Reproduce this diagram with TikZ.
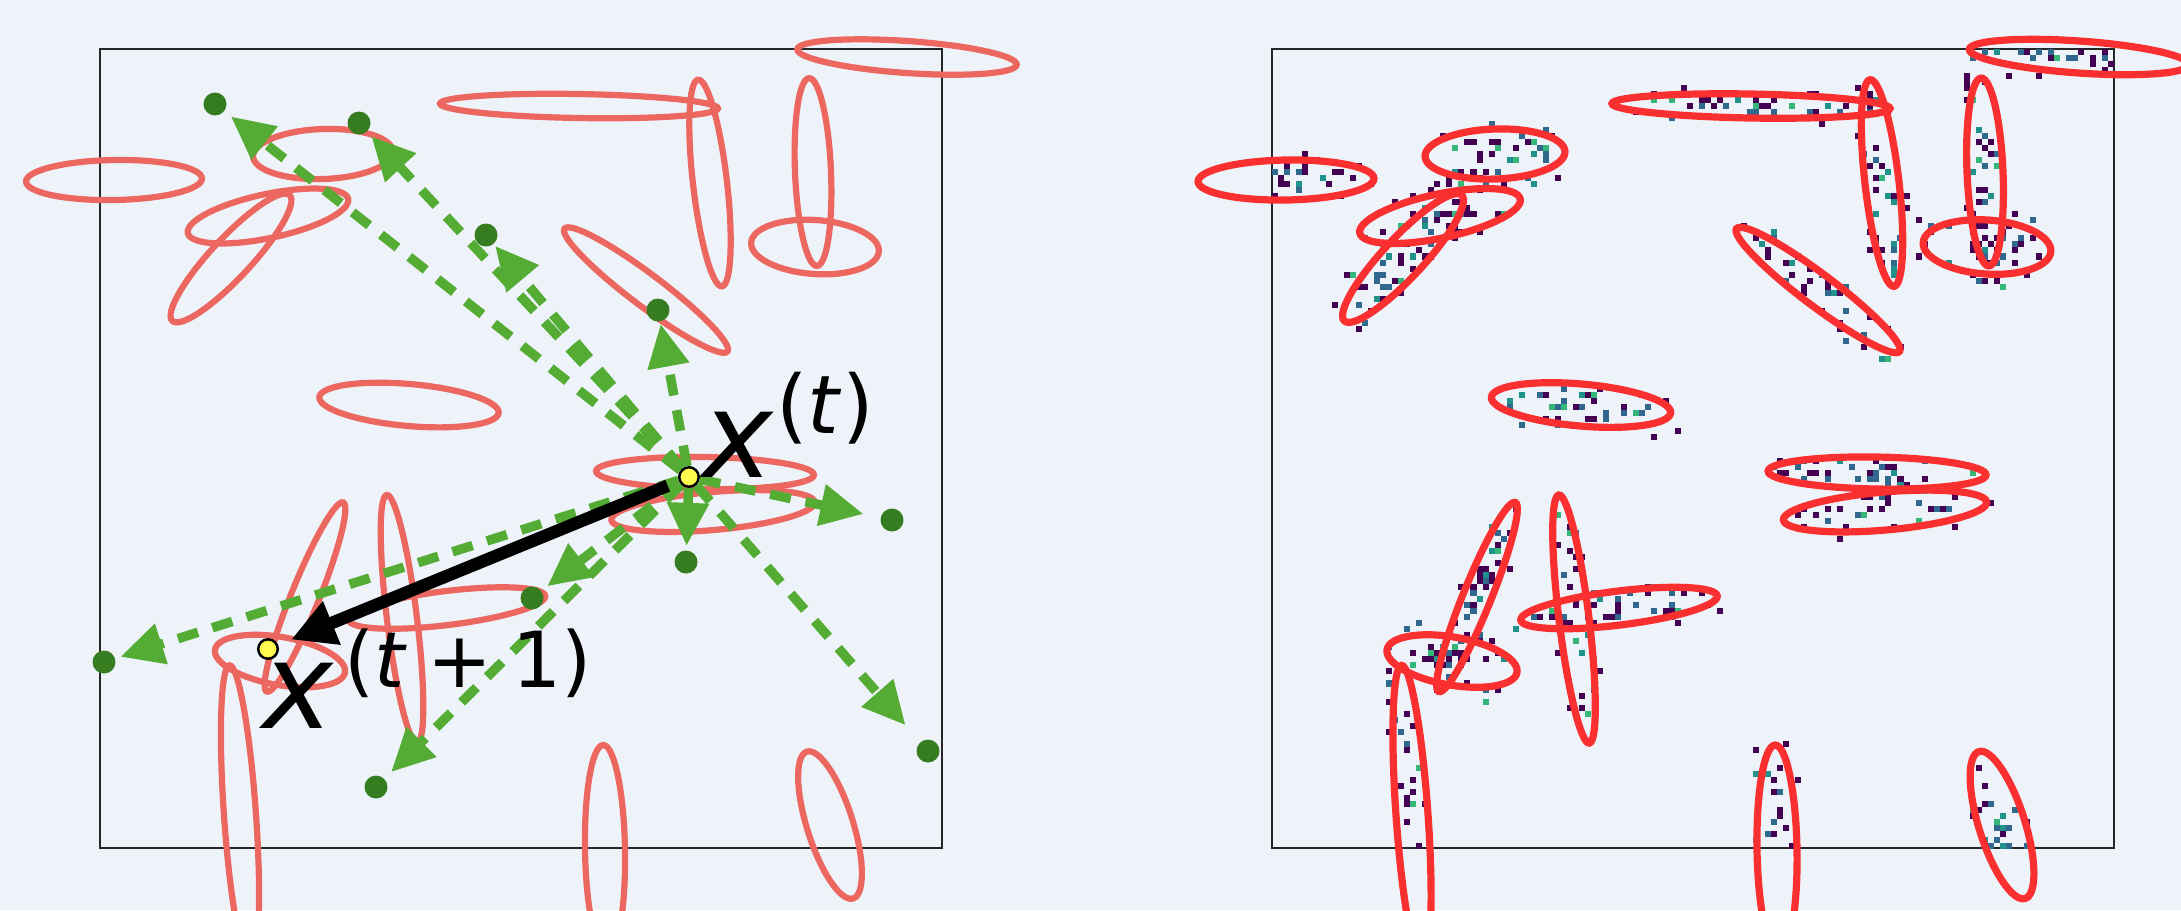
\documentclass[tikz,border=0pt]{standalone}
\usepackage{fontspec}
\setmainfont{DejaVu Sans}[ItalicFont={DejaVu Sans Oblique}]
\usetikzlibrary{arrows.meta}

\definecolor{bgpanel}{RGB}{238,243,250}
\definecolor{ellsoft}{RGB}{236,103,95}
\definecolor{ellhot}{RGB}{250,48,48}
\definecolor{propline}{RGB}{84,172,52}
\definecolor{propdot}{RGB}{54,125,34}
\definecolor{curdot}{RGB}{255,250,80}
\definecolor{vpurple}{RGB}{68,1,84}
\definecolor{vblue}{RGB}{49,104,142}
\definecolor{vteal}{RGB}{33,145,140}
\definecolor{vgreen}{RGB}{53,183,121}

% centre x / centre y / semi-axis a / semi-axis b / angle  (left panel, pixels)
\newcommand{\ellipselist}{114/180/88/20/1, 323/154/70/25/2, 268/216/82/22/12,
  231/258/86/20/47, 409/405/90/21/-5, 579/106/139/12/-1, 907/57/110/16/-4,
  710/183/104/17/96.6, 813/172/94/18/92.4, 815/247/64/27/-4, 646/290/102/16/-37,
  280/661/66/24/-10, 305/597/102/14/68, 402/619/125/15/97, 240/815/150/16/94,
  447/608/99/17/7, 705/473/109/16/-1, 713/511/102/19/5, 605/850/105/20/91,
  830/825/77/23/107.5}

\pgfmathdeclarerandomlist{viridis}{{vpurple}{vpurple}{vpurple}{vpurple}{vpurple}{vpurple}{vpurple}{vblue}{vblue}{vblue}{vteal}{vgreen}}

\begin{document}
\begin{tikzpicture}[
    x=0.1mm, y=-0.1mm,
    frame/.style={draw=black!85, line width=0.22mm},
    ellL/.style={draw=ellsoft, line width=0.62mm},
    ellR/.style={draw=ellhot, line width=0.72mm},
    prop/.style={-{Triangle[length=4.3mm, width=4mm]}, draw=propline, line width=0.95mm, dash pattern=on 2.1mm off 1.5mm},
    move/.style={-{Triangle[length=4.4mm, width=4.4mm]}, draw=black, line width=1.25mm},
    pdot/.style={circle, fill=propdot, minimum size=2.3mm, inner sep=0pt},
    xdot/.style={circle, draw=black, fill=curdot, line width=0.25mm, minimum size=1.95mm, inner sep=0pt},
    lbl/.style={inner sep=0pt, font=\fontsize{34}{34}\selectfont}
]

% 1. Canvas and axes frames
\useasboundingbox (0,0) rectangle (2181,910);
\clip (0,0) rectangle (2181,910);
\fill[bgpanel] (0,0) rectangle (2181,910);
\draw[frame] (100,49) rectangle (942,848);
\draw[frame] (1272,49) rectangle (2114,848);

% 2. Sample histogram (right panel)
\begin{scope}
  \clip (1272,49) rectangle (2114,848);
  \pgfmathsetseed{11}
  \foreach \ecx/\ecy/\ea/\eb/\ang in \ellipselist {
    \foreach \k in {1,...,38} {
      \pgfmathsetmacro\du{(rand+rand)*0.6*\ea}
      \pgfmathsetmacro\dv{(rand+rand)*0.75*\eb}
      \pgfmathsetmacro\gx{1272+(floor((\ecx+\du*cos(\ang)-\dv*sin(\ang)-100)/6.014)+0.5)*6.014}
      \pgfmathsetmacro\gy{49+(floor((\ecy-\du*sin(\ang)-\dv*cos(\ang)-49)/6.014)+0.5)*6.014}
      \pgfmathrandomitem\vcol{viridis}
      \fill[\vcol] (\gx-3.007,\gy-3.007) rectangle +(6.014,6.014);
    }
  }
\end{scope}

% 3. Ellipses in both panels
\foreach \ecx/\ecy/\ea/\eb/\ang in \ellipselist {
  \draw[ellL, shift={(\ecx,\ecy)}, rotate=\ang] (0,0) ellipse [x radius=\ea, y radius=\eb];
  \draw[ellR, shift={(\ecx+1172,\ecy)}, rotate=\ang] (0,0) ellipse [x radius=\ea, y radius=\eb];
}

% 4. Current state, next state and proposals
\node[xdot] (xt) at (689,477) {};
\node[xdot] (xt1) at (268,649) {};

\node[pdot] (p1) at (215,104) {};
\node[pdot] (p2) at (359,123) {};
\node[pdot] (p3) at (486,235) {};
\node[pdot] (p4) at (658,310) {};
\node[pdot] (p5) at (892,520) {};
\node[pdot] (p6) at (686,562) {};
\node[pdot] (p7) at (928,751) {};
\node[pdot] (p8) at (532,598) {};
\node[pdot] (p9) at (104,662) {};
\node[pdot] (p10) at (376,787) {};

\foreach \p/\s in {p1/0.8mm, p2/0.6mm, p3/0.2mm, p4/0.2mm, p5/1.7mm,
                   p6/0.4mm, p7/2.2mm, p8/0.7mm, p9/0.5mm, p10/0.9mm}
  \draw[prop, shorten >=\s] (xt) -- (\p);

\draw[move, shorten <=1.2mm, shorten >=1.4mm] (xt) -- (xt1);

% 5. Labels
\node[lbl, anchor=base west] (labt) at (702,477)
  {\textit{x}\kern0.2mm\raisebox{4.4mm}{\fontsize{23}{23}\selectfont(\textit{t})}};
\node[lbl, anchor=base west] (labt1) at (262,728)
  {\textit{x}\kern1.0mm\raisebox{4.1mm}{\fontsize{22}{22}\selectfont(\textit{t}\kern0.26em+\kern0.26em1)}};

\end{tikzpicture}
\end{document}
